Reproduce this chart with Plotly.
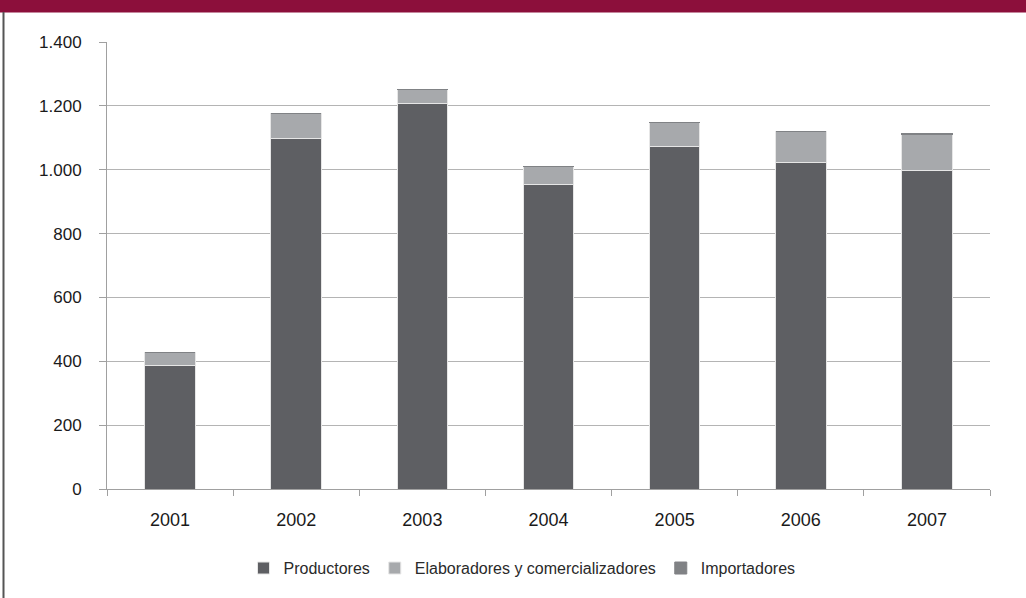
import plotly.graph_objects as go

years = ["2001", "2002", "2003", "2004", "2005", "2006", "2007"]
productores = [388, 1098, 1208, 955, 1072, 1024, 997]
elaboradores = [38, 78, 43, 54, 77, 95, 113]
importadores = [0, 0, 0, 0, 0, 0, 3]
y_ticks = [0, 200, 400, 600, 800, 1000, 1200, 1400]

fig = go.Figure()
series = [
    ("Productores", productores, "#5e5f63", "#e6e6e6"),
    ("Elaboradores y comercializadores", elaboradores, "#a7a9ac", "#e6e6e6"),
    ("Importadores", importadores, "#808285", "#808285"),
]
for name, vals, col, lc in series:
    fig.add_trace(go.Bar(
        x=years, y=vals, name=name,
        marker=dict(color=col, line=dict(color=lc, width=1)),
    ))

fig.update_layout(
    barmode="stack",
    bargap=0.6,
    width=1026, height=598,
    margin=dict(l=107, r=36, t=42, b=109),
    paper_bgcolor="white", plot_bgcolor="white",
    separators=",.",
    font=dict(family="Liberation Sans, Arial, sans-serif", color="#1a1a1a"),
    showlegend=True,
    legend=dict(orientation="h", x=0.47, xanchor="center", y=-0.177, yanchor="middle",
                font=dict(size=16, color="#2a2a2a"), traceorder="normal", itemwidth=30),
    xaxis=dict(type="category", showline=True, linecolor="#a0a0a0", linewidth=1,
               ticks="outside", tickson="boundaries", ticklen=6, tickcolor="#a0a0a0",
               tickfont=dict(size=18, color="#1a1a1a"), showgrid=False,
               ticklabelstandoff=14),
    yaxis=dict(range=[0, 1400], tickvals=y_ticks, tickformat=",d",
               showline=True, linecolor="#a0a0a0", linewidth=1,
               ticks="outside", ticklen=7, tickcolor="#a0a0a0",
               showgrid=True, gridcolor="#b4b4b4", gridwidth=1,
               tickfont=dict(size=17, color="#1a1a1a"), zeroline=False,
               ticklabelstandoff=14),
    shapes=[
        dict(type="rect", xref="paper", yref="paper", x0=-0.2, x1=1.1,
             y0=(489 - 12.5) / 447, y1=1.2, fillcolor="#8c0f3b", line=dict(width=0), layer="above"),
        dict(type="line", xref="paper", yref="paper", x0=(3.5 - 107) / 883, x1=(3.5 - 107) / 883,
             y0=-0.3, y1=(489 - 12) / 447, line=dict(color="#555555", width=2)),
    ],
)

fig.write_html("out.html", config={"displayModeBar": False},
               post_script="document.body.style.margin='0';")
